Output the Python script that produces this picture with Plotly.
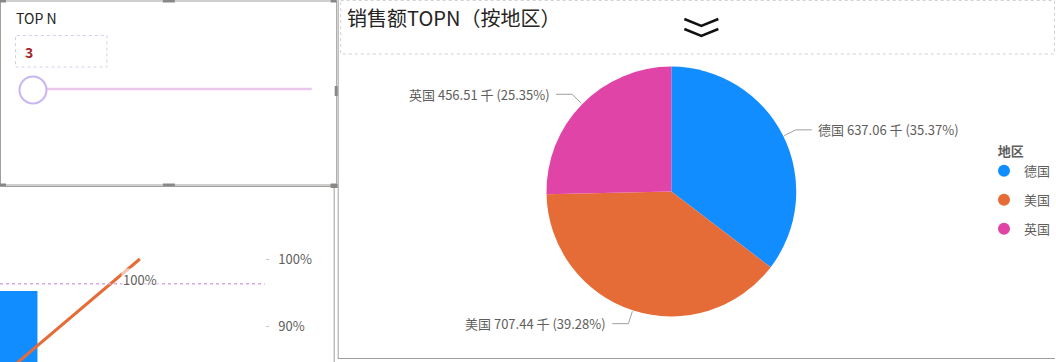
import math
import plotly.graph_objects as go

W, H = 1056, 362

# ---------------- data ----------------
regions = ["德国", "美国", "英国"]
sales_k = [637.06, 707.44, 456.51]          # 千
region_colors = ["#118DFF", "#E66C37", "#E044A7"]

pareto_cats = ["美国", "德国", "英国"]
pareto_sales_k = [707.44, 637.06, 456.51]
pareto_cum_share = [0.3928, 0.7465, 1.0]
target_share = 0.963
pct_ticks = [0.9, 1.0]

topn_value = 3
chart_title = "销售额TOPN（按地区）"
slicer_title = "TOP N"
legend_title = "地区"

FONT = "Noto Sans CJK SC, Segoe UI, sans-serif"
LABEL_C = "#605E5C"
DARK = "#252423"


def fx(p):
    return p / W


def fy(p):
    return 1 - p / H


fig = go.Figure()

# ---------------- bottom-left partial combo chart ----------------
fig.add_trace(go.Bar(
    x=list(range(len(pareto_cats))), y=pareto_sales_k, width=0.98,
    marker=dict(color="#118DFF", line=dict(width=0)),
    showlegend=False, hoverinfo="skip", xaxis="x", yaxis="y"))
fig.add_trace(go.Scatter(
    x=list(range(len(pareto_cats))), y=pareto_cum_share, mode="lines",
    line=dict(color="#E66C37", width=3),
    showlegend=False, hoverinfo="skip", xaxis="x", yaxis="y2"))

# ---------------- pie ----------------
cx, cy, R = 672, 191.5, 125
fig.add_trace(go.Pie(
    labels=regions, values=sales_k, sort=False, direction="clockwise",
    rotation=0, marker=dict(colors=region_colors, line=dict(width=0)),
    textinfo="none", hoverinfo="label+value+percent", showlegend=False,
    domain=dict(x=[fx(cx - R), fx(cx + R)], y=[fy(cy + R), fy(cy - R)])))

# legend entries (circle markers)
for name, col in zip(regions, region_colors):
    fig.add_trace(go.Scatter(
        x=[None], y=[None], mode="markers", name=name, legendgroup=name,
        marker=dict(symbol="circle", size=12, color=col),
        xaxis="x", yaxis="y"))

shapes = []
annotations = []

# leader lines + outside labels
total = sum(sales_k)
acc = 0.0
for name, v in zip(regions, sales_k):
    mid = (acc + v / 2) / total * 2 * math.pi
    acc += v
    s, c = math.sin(mid), math.cos(mid)
    p1 = (cx + (R + 1) * s, cy - (R + 1) * c)
    p2 = (cx + (R + 14) * s, cy - (R + 14) * c)
    side = 1 if s > 0 else -1
    p3 = (p2[0] + side * 16, p2[1])
    shapes.append(dict(
        type="path", xref="paper", yref="paper",
        path=f"M {fx(p1[0])} {fy(p1[1])} L {fx(p2[0])} {fy(p2[1])} L {fx(p3[0])} {fy(p3[1])}",
        line=dict(color="#A19F9D", width=1)))
    annotations.append(dict(
        xref="paper", yref="paper", x=fx(p3[0] + side * 4), y=fy(p3[1]),
        xanchor="left" if side > 0 else "right", yanchor="middle",
        text=f"{name} {v:.2f} 千 ({v / total:.2%})", showarrow=False,
        font=dict(family=FONT, size=13, color=LABEL_C)))

# data label on the line end
annotations.append(dict(
    xref="x", yref="y2", x=len(pareto_cats) - 1, y=pareto_cum_share[-1],
    yshift=-20, text=f"{pareto_cum_share[-1]:.0%}", showarrow=False,
    bgcolor="rgba(255,255,255,0.6)",
    font=dict(family=FONT, size=13, color=LABEL_C)))

# target dotted line
shapes.append(dict(type="line", xref="x domain", yref="y2", x0=0, x1=1,
                   y0=target_share, y1=target_share,
                   line=dict(color="#D9A8E2", width=1.5, dash="dot")))

# ---------------- panel frames ----------------
GRID = "#A19F9D"
shapes += [
    dict(type="rect", xref="paper", yref="paper", x0=fx(0.5), x1=fx(337), y0=fy(1), y1=fy(185),
         line=dict(color=GRID, width=1)),
    dict(type="line", xref="paper", yref="paper", x0=fx(338.5), x1=fx(338.5), y0=fy(0), y1=fy(358.5),
         line=dict(color=GRID, width=1)),
    dict(type="line", xref="paper", yref="paper", x0=fx(338), x1=fx(1056), y0=fy(358.5), y1=fy(358.5),
         line=dict(color=GRID, width=1)),
    dict(type="rect", xref="paper", yref="paper", x0=fx(341), x1=fx(1055.5), y0=fy(0.5), y1=fy(54),
         line=dict(color="#D2D0CE", width=1, dash="dot")),
    dict(type="line", xref="paper", yref="paper", x0=fx(0), x1=fx(334.5), y0=fy(186.5), y1=fy(186.5),
         line=dict(color=GRID, width=1)),
    dict(type="line", xref="paper", yref="paper", x0=fx(334.5), x1=fx(334.5), y0=fy(186.5), y1=fy(362),
         line=dict(color=GRID, width=1)),
]
# grip handles
for gx0, gy0, gx1, gy1 in [(0, 0, 6, 2.5), (163, 0, 175, 2.5), (331, 0, 337, 2.5),
                           (0, 183.5, 6, 186), (163, 183.5, 175, 186), (331, 183.5, 337, 186),
                           (335, 86, 338, 96), (331, 184, 338, 188)]:
    shapes.append(dict(type="rect", xref="paper", yref="paper", x0=fx(gx0), x1=fx(gx1),
                       y0=fy(gy1), y1=fy(gy0), fillcolor="#8A8886", line=dict(width=0)))

# slicer widgets
shapes += [
    dict(type="rect", xref="paper", yref="paper", x0=fx(15.5), x1=fx(107), y0=fy(67), y1=fy(35.5),
         line=dict(color="#D6CDEB", width=1, dash="dot")),
    dict(type="line", xref="paper", yref="paper", x0=fx(47), x1=fx(312), y0=fy(89), y1=fy(89),
         line=dict(color="#E9C8EC", width=2.5)),
    dict(type="circle", xref="paper", yref="paper", x0=fx(19.5), x1=fx(46.5), y0=fy(103.5), y1=fy(76.5),
         fillcolor="white", line=dict(color="#C7B6F2", width=2)),
]
# chevron icon
for top in (19, 29):
    shapes.append(dict(type="path", xref="paper", yref="paper",
                       path=f"M {fx(685)} {fy(top)} L {fx(702)} {fy(top + 7)} L {fx(719)} {fy(top)}",
                       line=dict(color="#111111", width=2.5)))

annotations += [
    dict(xref="paper", yref="paper", x=fx(345), y=fy(18), xanchor="left", yanchor="middle",
         text=chart_title, showarrow=False, font=dict(family=FONT, size=20, color=DARK)),
    dict(xref="paper", yref="paper", x=fx(14), y=fy(18), xanchor="left", yanchor="middle",
         text=slicer_title, showarrow=False, font=dict(family=FONT, size=14, color=DARK)),
    dict(xref="paper", yref="paper", x=fx(23), y=fy(52), xanchor="left", yanchor="middle",
         text=f"<b>{topn_value}</b>", showarrow=False, font=dict(family=FONT, size=14, color="#A4262C")),
]

fig.update_layout(
    width=W, height=H, margin=dict(l=0, r=0, t=0, b=0),
    paper_bgcolor="white", plot_bgcolor="rgba(0,0,0,0)",
    font=dict(family=FONT, color=LABEL_C),
    shapes=shapes, annotations=annotations,
    xaxis=dict(domain=[0, fx(265)], range=[1.3035, 2.622], visible=False),
    yaxis=dict(domain=[0, fy(190)], range=[480, 860.5], visible=False),
    yaxis2=dict(overlaying="y", anchor="x", side="right", range=[0.8463, 1.103],
                tickvals=pct_ticks, tickformat=".0%", ticks="outside", ticklen=3,
                tickcolor="#C8C6C4", showgrid=False, zeroline=False, showline=False,
                ticklabelstandoff=7, tickfont=dict(family=FONT, size=13, color=LABEL_C)),
    legend=dict(x=fx(985), y=fy(139), xanchor="left", yanchor="top",
                title=dict(text=f"\u00a0\u00a0\u00a0\u00a0<b>{legend_title}</b>",
                           font=dict(family=FONT, size=13, color=LABEL_C)),
                font=dict(family=FONT, size=13, color=LABEL_C), tracegroupgap=9,
                itemwidth=30, bgcolor="rgba(0,0,0,0)"),
    showlegend=True,
)

fig.write_html("out.html", config={"displayModeBar": False},
               post_script="document.body.style.margin='0';document.body.style.overflow='hidden';")
